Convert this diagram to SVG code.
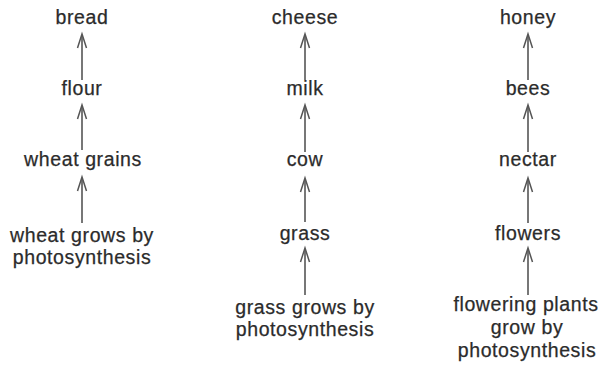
<svg xmlns="http://www.w3.org/2000/svg" width="604" height="365" viewBox="0 0 604 365">
<style>
text{font-family:"Liberation Sans",Arial,sans-serif;font-size:19.5px;letter-spacing:0.6px;fill:#2b2b2b;stroke:#2b2b2b;stroke-width:0.25;text-anchor:middle}
.shaft{stroke:#555;stroke-width:1.6;fill:none}
</style>
<defs>
<path id="hd" d="M-4.5,14 L0,0 L4.5,14" fill="none" stroke="#555" stroke-width="1.5"/>
</defs>
<rect width="604" height="365" fill="#fff"/>
<g id="connectors">
<g class="shaft">
<line x1="82" y1="80" x2="82" y2="35"/>
<line x1="82" y1="150" x2="82" y2="106"/>
<line x1="82" y1="223" x2="82" y2="178"/>
<line x1="305" y1="80" x2="305" y2="35"/>
<line x1="305" y1="152" x2="305" y2="106"/>
<line x1="305" y1="222" x2="305" y2="179"/>
<line x1="305" y1="295" x2="305" y2="249"/>
<line x1="528" y1="80" x2="528" y2="35"/>
<line x1="528" y1="152" x2="528" y2="106"/>
<line x1="528" y1="223" x2="528" y2="179"/>
<line x1="528" y1="295" x2="528" y2="249"/>
</g>
<use href="#hd" x="82" y="34"/>
<use href="#hd" x="82" y="105"/>
<use href="#hd" x="82" y="177"/>
<use href="#hd" x="305" y="34"/>
<use href="#hd" x="305" y="105"/>
<use href="#hd" x="305" y="178"/>
<use href="#hd" x="305" y="248"/>
<use href="#hd" x="528" y="34"/>
<use href="#hd" x="528" y="105"/>
<use href="#hd" x="528" y="178"/>
<use href="#hd" x="528" y="248"/>
</g>
<g id="bread"><text x="82" y="24">bread</text></g>
<g id="flour"><text x="82" y="95">flour</text></g>
<g id="wheat-grains"><text x="83" y="166">wheat grains</text></g>
<g id="wheat-grows"><text x="82" y="242">wheat grows by</text><text x="82" y="264">photosynthesis</text></g>
<g id="cheese"><text x="305" y="24">cheese</text></g>
<g id="milk"><text x="305" y="95">milk</text></g>
<g id="cow"><text x="305" y="166">cow</text></g>
<g id="grass"><text x="305" y="240">grass</text></g>
<g id="grass-grows"><text x="305" y="314">grass grows by</text><text x="305" y="336">photosynthesis</text></g>
<g id="honey"><text x="528" y="24">honey</text></g>
<g id="bees"><text x="528" y="95">bees</text></g>
<g id="nectar"><text x="528" y="166">nectar</text></g>
<g id="flowers"><text x="528" y="240">flowers</text></g>
<g id="flowering-plants"><text x="526" y="311">flowering plants</text><text x="527" y="334">grow by</text><text x="527" y="357">photosynthesis</text></g>
</svg>
